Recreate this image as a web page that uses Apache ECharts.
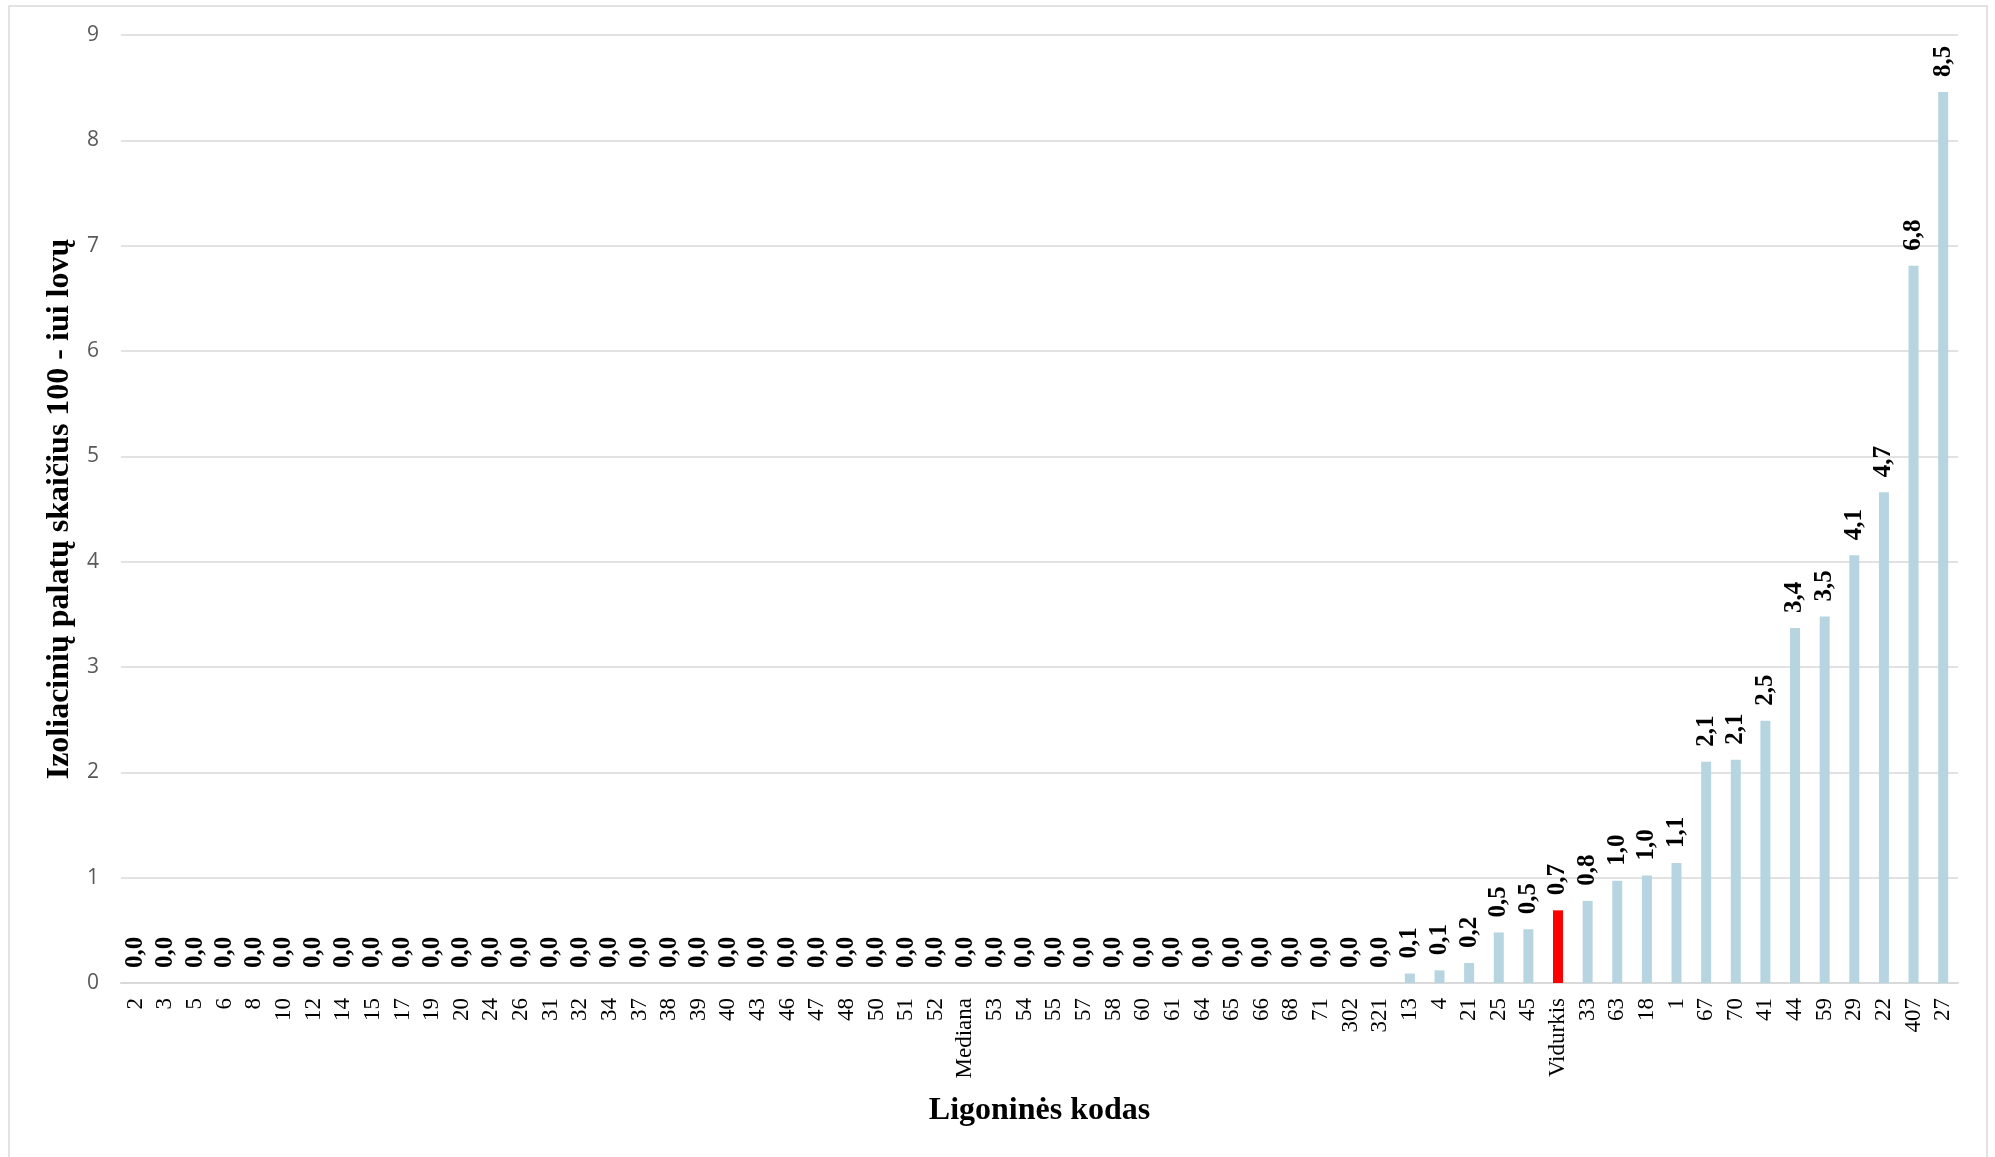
<!DOCTYPE html>
<html>
<head>
<meta charset="utf-8">
<script src="https://cdn.jsdelivr.net/npm/echarts@6/dist/echarts.min.js"></script>
<style>
  html, body { margin: 0; padding: 0; background: #ffffff; }
  #chart { width: 1995px; height: 1157px; }
</style>
</head>
<body>
<div id="chart"></div>
<script>
const categories = ['2','3','5','6','8','10','12','14','15','17','19','20','24','26','31','32','34','37','38','39','40','43','46','47','48','50','51','52','Mediana','53','54','55','57','58','60','61','64','65','66','68','71','302','321','13','4','21','25','45','Vidurkis','33','63','18','1','67','70','41','44','59','29','22','407','27'];
const values = [0,0,0,0,0,0,0,0,0,0,0,0,0,0,0,0,0,0,0,0,0,0,0,0,0,0,0,0,0,0,0,0,0,0,0,0,0,0,0,0,0,0,0,
  0.09,0.12,0.19,0.48,0.51,0.69,0.78,0.97,1.02,1.14,2.10,2.12,2.49,3.37,3.48,4.06,4.66,6.81,8.46];
const highlightCategory = 'Vidurkis';
const yTitle = 'Izoliacinių palatų skaičius 100 - iui lovų';
const xTitle = 'Ligoninės kodas';

const barColor = '#B7D5E0';
const highlightColor = '#FF0000';
const serif = "'Times New Roman', 'Liberation Serif', serif";

const chart = echarts.init(document.getElementById('chart'), null, { renderer: 'canvas' });
chart.setOption({
  backgroundColor: '#ffffff',
  animation: false,
  graphic: [{
    type: 'rect',
    shape: { x: 9, y: 6, width: 1978, height: 1170 },
    style: { fill: 'none', stroke: '#D9D9D9', lineWidth: 1.5 },
    silent: true
  }],
  grid: { left: 121, right: 37, top: 35, bottom: 174, containLabel: false },
  xAxis: {
    type: 'category',
    data: categories,
    name: xTitle,
    nameLocation: 'middle',
    nameGap: 112,
    nameTextStyle: { fontFamily: serif, fontWeight: 'bold', fontSize: 32, color: '#000000' },
    axisLine: { show: true, lineStyle: { color: '#D9D9D9', width: 2 } },
    axisTick: { show: false },
    axisLabel: {
      interval: 0, rotate: 90, margin: 15,
      fontFamily: serif, fontSize: 23, color: '#000000'
    },
    splitLine: { show: false }
  },
  yAxis: {
    type: 'value',
    min: 0, max: 9, interval: 1,
    name: yTitle,
    nameLocation: 'middle',
    nameGap: 42,
    nameRotate: 90,
    nameTextStyle: { fontFamily: serif, fontWeight: 'bold', fontSize: 32, color: '#000000' },
    axisLine: { show: false },
    axisTick: { show: false },
    axisLabel: { margin: 22, fontFamily: "'Open Sans', sans-serif", fontSize: 21, color: '#595959' },
    splitLine: { show: true, lineStyle: { color: '#D9D9D9', width: 1.5 } }
  },
  series: [{
    type: 'bar',
    barWidth: 10,
    data: values.map((v, i) => ({
      value: v,
      itemStyle: { color: categories[i] === highlightCategory ? highlightColor : barColor }
    })),
    label: {
      show: true,
      position: 'top',
      rotate: 90,
      align: 'left',
      verticalAlign: 'middle',
      distance: 15,
      fontFamily: serif,
      fontWeight: 'bold',
      fontSize: 25,
      color: '#000000',
      formatter: p => p.value.toFixed(1).replace('.', ',')
    }
  }]
});
</script>
</body>
</html>
